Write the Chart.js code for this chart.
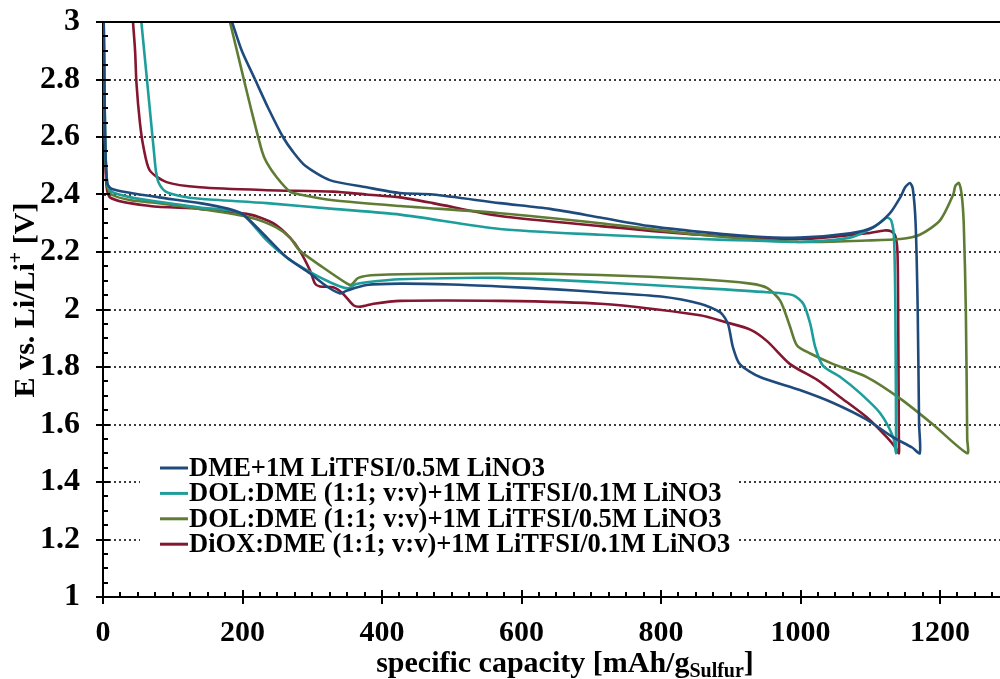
<!DOCTYPE html>
<html>
<head>
<meta charset="utf-8">
<script src="https://cdn.jsdelivr.net/npm/chart.js@4/dist/chart.umd.min.js"></script>
<style>
  html, body { margin: 0; padding: 0; background: #ffffff; }
  #wrap { position: relative; width: 1000px; height: 679px; }
</style>
</head>
<body>
<div id="wrap"><canvas id="c"></canvas></div>
<script>
// Galvanostatic discharge/charge profiles (capacity in mAh/g sulfur, potential in V)
const seriesLabels = [
  'DME+1M LiTFSI/0.5M LiNO3',
  'DOL:DME (1:1; v:v)+1M LiTFSI/0.1M LiNO3',
  'DOL:DME (1:1; v:v)+1M LiTFSI/0.5M LiNO3',
  'DiOX:DME (1:1; v:v)+1M LiTFSI/0.1M LiNO3'
];
const seriesColors = ['#1f4b7c', '#1e9e9b', '#5f7c34', '#841630'];

// DME + 0.5M LiNO3: discharge (left to right) followed by charge (right to left)
const dmeCap = [1, 3, 6, 12, 40, 80, 139, 180, 201, 235, 264, 297, 321, 340, 350, 378, 426, 500, 569, 650, 713, 800, 856, 885, 896, 903, 913, 942, 999, 1047, 1095, 1133, 1160, 1171,
  1170, 1168, 1165, 1161, 1157, 1150, 1143, 1128, 1104, 1071, 999, 928, 856, 784, 713, 641, 569, 473, 426, 378, 325, 290, 272, 258, 237, 218, 199, 185];
const dmeV = [3.0, 2.6, 2.44, 2.42, 2.405, 2.39, 2.37, 2.35, 2.33, 2.25, 2.18, 2.125, 2.08, 2.056, 2.066, 2.085, 2.09, 2.087, 2.08, 2.07, 2.06, 2.045, 2.02, 1.99, 1.95, 1.87, 1.81, 1.765, 1.72, 1.675, 1.617, 1.555, 1.52, 1.5,
  1.6, 2.0, 2.3, 2.42, 2.44, 2.425, 2.39, 2.334, 2.286, 2.265, 2.25, 2.255, 2.27, 2.29, 2.32, 2.35, 2.37, 2.4, 2.405, 2.425, 2.45, 2.5, 2.55, 2.6, 2.7, 2.8, 2.9, 3.0];

// DOL:DME + 0.1M LiNO3
const dol01Cap = [1, 3, 6, 12, 40, 80, 139, 180, 201, 235, 264, 297, 321, 340, 352, 362, 378, 426, 569, 713, 856, 952, 989, 1004, 1014, 1021, 1032, 1057, 1085, 1114, 1133, 1137,
  1137, 1136, 1134, 1130, 1124, 1118, 1104, 1071, 999, 928, 856, 713, 569, 426, 330, 235, 139, 110, 90, 80, 76, 73, 67, 61, 55];
const dol01V = [3.0, 2.6, 2.44, 2.41, 2.39, 2.375, 2.355, 2.345, 2.33, 2.24, 2.18, 2.13, 2.1, 2.08, 2.074, 2.088, 2.095, 2.105, 2.11, 2.095, 2.075, 2.06, 2.05, 2.02, 1.95, 1.87, 1.805, 1.765, 1.71, 1.64, 1.555, 1.5,
  1.55, 2.0, 2.25, 2.31, 2.32, 2.31, 2.285, 2.25, 2.235, 2.24, 2.245, 2.26, 2.28, 2.33, 2.35, 2.37, 2.385, 2.395, 2.41, 2.44, 2.48, 2.55, 2.7, 2.85, 3.0];

// DOL:DME + 0.5M LiNO3
const dol05Cap = [1, 3, 6, 12, 40, 80, 139, 211, 249, 268, 282, 315, 350, 356, 366, 392, 569, 713, 856, 928, 952, 971, 985, 995, 1014, 1047, 1095, 1143, 1190, 1239,
  1239, 1237, 1234, 1231, 1227, 1222, 1219, 1200, 1171, 1143, 1095, 999, 856, 713, 569, 426, 330, 282, 268, 249, 235, 228, 212, 197, 182];
const dol05V = [3.0, 2.6, 2.43, 2.4, 2.38, 2.37, 2.35, 2.32, 2.285, 2.25, 2.205, 2.147, 2.09, 2.086, 2.11, 2.12, 2.125, 2.12, 2.105, 2.09, 2.075, 2.03, 1.94, 1.875, 1.847, 1.81, 1.765, 1.69, 1.6, 1.5,
  1.55, 2.0, 2.3, 2.4, 2.44, 2.43, 2.4, 2.31, 2.26, 2.245, 2.24, 2.235, 2.26, 2.3, 2.335, 2.36, 2.38, 2.4, 2.41, 2.46, 2.51, 2.55, 2.7, 2.85, 3.0];

// DiOX:DME + 0.1M LiNO3
const dioxCap = [1, 2, 4, 10, 67, 139, 211, 244, 268, 282, 297, 304, 311, 330, 344, 359, 369, 388, 426, 569, 713, 856, 894, 928, 952, 985, 1024, 1057, 1095, 1124, 1136, 1141,
  1141, 1140, 1139, 1136, 1130, 1120, 1095, 999, 856, 713, 569, 473, 426, 378, 330, 235, 139, 91, 67, 58, 53, 48, 46, 43];
const dioxV = [3.0, 2.7, 2.47, 2.39, 2.36, 2.35, 2.33, 2.3, 2.25, 2.205, 2.135, 2.09, 2.08, 2.077, 2.055, 2.015, 2.01, 2.02, 2.03, 2.03, 2.02, 1.98, 1.955, 1.93, 1.89, 1.81, 1.755, 1.695, 1.625, 1.555, 1.52, 1.5,
  1.55, 2.0, 2.2, 2.255, 2.272, 2.275, 2.265, 2.245, 2.26, 2.29, 2.325, 2.37, 2.39, 2.4, 2.41, 2.415, 2.425, 2.443, 2.484, 2.565, 2.648, 2.786, 2.9, 3.0];

// Axis ticks
const xTicks = [0, 200, 400, 600, 800, 1000, 1200];
const xTickLabels = ['0', '200', '400', '600', '800', '1000', '1200'];
const yTicks = [1, 1.2, 1.4, 1.6, 1.8, 2, 2.2, 2.4, 2.6, 2.8, 3];
const yTickLabels = ['1', '1.2', '1.4', '1.6', '1.8', '2', '2.2', '2.4', '2.6', '2.8', '3'];

const capArrays = [dmeCap, dol01Cap, dol05Cap, dioxCap];
const vArrays = [dmeV, dol01V, dol05V, dioxV];

const SERIF = '"Liberation Serif", "DejaVu Serif", serif';

const datasets = seriesLabels.map((label, i) => ({
  label,
  data: capArrays[i].map((c, k) => ({ x: c, y: vArrays[i][k] })),
  borderColor: seriesColors[i],
  backgroundColor: seriesColors[i],
  borderWidth: 2.6,
  showLine: true,
  pointRadius: 0,
  tension: 0.25,
  fill: false
}));

// Axis decorations: tick marks, top frame line, axis titles and the inset legend
const decorations = {
  id: 'decorations',
  afterDatasetsDraw(chart) {
    const { ctx, chartArea: a, scales: { x, y } } = chart;
    ctx.save();
    ctx.strokeStyle = '#000';
    ctx.lineWidth = 2;
    // top frame line
    ctx.beginPath();
    ctx.moveTo(a.left, a.top);
    ctx.lineTo(a.right, a.top);
    ctx.stroke();

    // x ticks: major crosses the axis, minor points inwards
    ctx.beginPath();
    for (let v = 0; v <= x.max; v += 25) {
      const px = Math.round(x.getPixelForValue(v));
      const major = v % 200 === 0;
      ctx.moveTo(px, a.bottom + (major ? 7 : 0));
      ctx.lineTo(px, a.bottom - (major ? 7 : 5));
    }
    // y ticks
    for (let k = 0; k <= 40; k++) {
      const v = 1 + k * 0.05;
      const py = Math.round(y.getPixelForValue(v));
      const major = k % 4 === 0;
      ctx.moveTo(a.left - (major ? 7 : 0), py);
      ctx.lineTo(a.left + (major ? 7 : 5), py);
    }
    ctx.stroke();

    // legend box
    const lx = 140, ly = 453, lw = 598, lh = 106;
    ctx.fillStyle = '#ffffff';
    ctx.fillRect(lx, ly, lw, lh);
    ctx.font = 'bold 26.5px ' + SERIF;
    ctx.textBaseline = 'middle';
    ctx.textAlign = 'left';
    chart.data.datasets.forEach((ds, i) => {
      const cy = 468 + i * 25.4;
      ctx.strokeStyle = ds.borderColor;
      ctx.lineWidth = 3;
      ctx.beginPath();
      ctx.moveTo(160, cy);
      ctx.lineTo(188, cy);
      ctx.stroke();
      ctx.fillStyle = '#000';
      ctx.fillText(ds.label, 189, cy + 1);
    });

    // x axis title with subscript
    ctx.fillStyle = '#000';
    ctx.textBaseline = 'alphabetic';
    const main = 'specific capacity [mAh/g';
    const sub = 'Sulfur';
    const tail = ']';
    ctx.font = 'bold 30px ' + SERIF;
    const w1 = ctx.measureText(main).width;
    const w3 = ctx.measureText(tail).width;
    ctx.font = 'bold 20px ' + SERIF;
    const w2 = ctx.measureText(sub).width;
    let tx = 565 - (w1 + w2 + w3) / 2;
    const base = 672;
    ctx.font = 'bold 30px ' + SERIF;
    ctx.fillText(main, tx, base);
    tx += w1;
    ctx.font = 'bold 20px ' + SERIF;
    ctx.fillText(sub, tx, base + 5);
    tx += w2;
    ctx.font = 'bold 30px ' + SERIF;
    ctx.fillText(tail, tx, base);

    // y axis title with superscript
    ctx.save();
    ctx.translate(34, 300);
    ctx.rotate(-Math.PI / 2);
    const p1 = 'E vs. Li/Li';
    const p2 = '+';
    const p3 = ' [V]';
    ctx.font = 'bold 30px ' + SERIF;
    const q1 = ctx.measureText(p1).width;
    const q3 = ctx.measureText(p3).width;
    ctx.font = 'bold 20px ' + SERIF;
    const q2 = ctx.measureText(p2).width;
    let ox = -(q1 + q2 + q3) / 2;
    ctx.font = 'bold 30px ' + SERIF;
    ctx.fillText(p1, ox, 0);
    ox += q1;
    ctx.font = 'bold 20px ' + SERIF;
    ctx.fillText(p2, ox, -12);
    ox += q2;
    ctx.font = 'bold 30px ' + SERIF;
    ctx.fillText(p3, ox, 0);
    ctx.restore();

    ctx.restore();
  }
};

new Chart(document.getElementById('c'), {
  type: 'scatter',
  data: { datasets },
  options: {
    responsive: true,
    maintainAspectRatio: false,
    animation: false,
    devicePixelRatio: 1,
    layout: { padding: { top: 22, right: 0, left: 0, bottom: 0 } },
    plugins: {
      legend: { display: false },
      tooltip: { enabled: false }
    },
    scales: {
      x: {
        type: 'linear',
        min: 0,
        max: 1286,
        afterBuildTicks: s => { s.ticks = xTicks.map(v => ({ value: v })); },
        afterFit: s => { s.height = 82; },
        grid: { display: false, drawTicks: false },
        border: { display: true, color: '#000', width: 2 },
        ticks: {
          color: '#000',
          padding: 18,
          maxRotation: 0,
          font: { family: SERIF, size: 30, weight: 'bold' },
          callback: (v, i) => xTickLabels[i]
        }
      },
      y: {
        type: 'linear',
        min: 1,
        max: 3,
        afterBuildTicks: s => { s.ticks = yTicks.map(v => ({ value: v })); },
        afterFit: s => { s.width = 103; s.paddingTop = 0; s.paddingBottom = 0; },
        grid: { display: true, drawTicks: false, color: '#3c3c3c', lineWidth: 2 },
        border: { display: true, color: '#000', width: 2, dash: [2, 3] },
        ticks: {
          color: '#000',
          padding: 23,
          font: { family: SERIF, size: 32, weight: 'bold' },
          callback: (v, i) => yTickLabels[i]
        }
      }
    }
  },
  plugins: [decorations]
});
</script>
</body>
</html>
